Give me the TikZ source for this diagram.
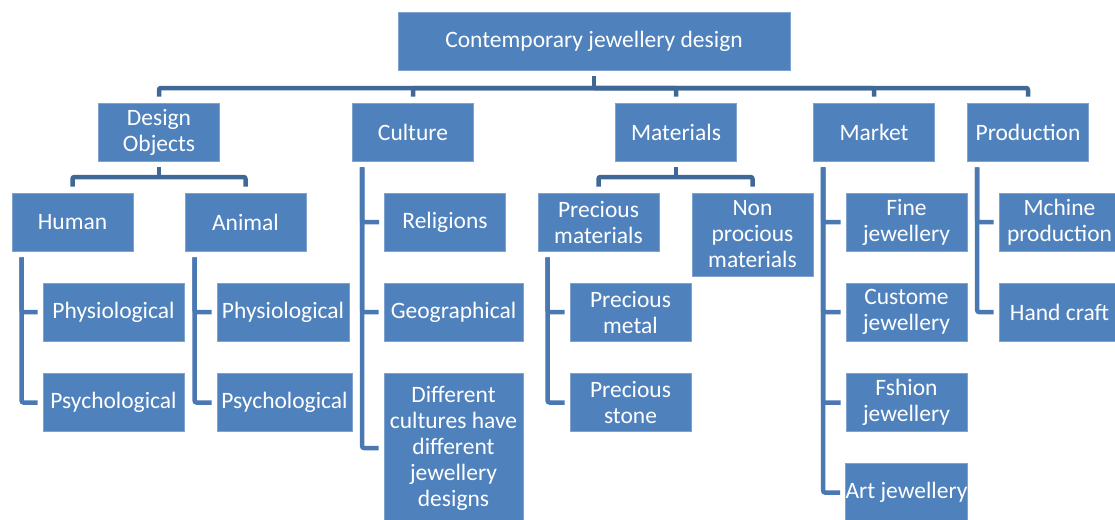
\documentclass[tikz,border=0pt]{standalone}
\usepackage{fontspec}
\setmainfont{Carlito}
\usepackage{tikz}

\definecolor{boxblue}{HTML}{4F81BD}
\definecolor{boxedge}{HTML}{7FA2CF}
\definecolor{barblue}{HTML}{3F6897}
\definecolor{linkblue}{HTML}{4A78B3}
\newcommand{\boxfont}{\fontsize{23.5}{26}\selectfont}

\begin{document}
\begin{tikzpicture}[x=1pt, y=-1pt,
    box/.style={rectangle, draw=boxedge, line width=0.8pt, fill=boxblue, text=white, inner sep=0pt, align=center, minimum width=121, minimum height=58, font=\boxfont},
    bar/.style={draw=barblue, line width=4.5pt, rounded corners=2pt},
    link/.style={draw=linkblue, line width=4.5pt, rounded corners=2pt}]
    \useasboundingbox (0,0) rectangle (1115,519);
    \clip (0,0) rectangle (1115,519);

    % Root
    \node[box, minimum width=392] (root) at (594,41) {Contemporary jewellery design};

    % Main branches
    \node[box] (design) at (159,132) {Design\\Objects};
    \node[box] (culture) at (413,132) {Culture};
    \node[box] (materials) at (676,132) {Materials};
    \node[box] (market) at (874,132) {Market};
    \node[box] (production) at (1028,132) {Production};

    % Second level
    \node[box] (human) at (72.5,222) {Human};
    \node[box] (animal) at (245.5,222) {Animal};
    \node[box] (religions) at (445,222) {Religions};
    \node[box] (precmat) at (598.5,222) {Precious\\materials};
    \node[box, minimum height=83] (nonprec) at (752.5,234.5) {Non\\procious\\materials};
    \node[box] (fine) at (906.5,222) {Fine\\jewellery};
    \node[box] (machine) at (1059.5,222) {Mchine\\production};

    % Third level
    \node[box, minimum width=141] (physhum) at (113.5,312) {Physiological};
    \node[box, minimum width=141] (psychum) at (113.5,402.5) {Psychological};
    \node[box, minimum width=132] (physani) at (283,312) {Physiological};
    \node[box, minimum width=135] (psychani) at (284.5,402.5) {Psychological};
    \node[box, minimum width=139] (geo) at (453.5,312) {Geographical};
    \node[box, minimum width=139, minimum height=150] (different) at (453.5,448) {Different\\cultures have\\different\\jewellery\\designs};
    \node[box] (metal) at (630.5,312) {Precious\\metal};
    \node[box] (stone) at (630.5,402.5) {Precious\\stone};
    \node[box] (custome) at (906.5,312) {Custome\\jewellery};
    \node[box] (fshion) at (906.5,402.5) {Fshion\\jewellery};
    \node[box] (art) at (906.5,492.5) {Art jewellery};
    \node[box] (handcraft) at (1059.5,312) {Hand craft};

    % Bars
    \coordinate (rootbar) at (594,88);
    \coordinate (designbar) at (159,177);
    \coordinate (matbar) at (676,177);
    \draw[bar] ([yshift=-6pt]root.south) -- (rootbar);
    \draw[bar] (rootbar) -| ([yshift=6pt]design.north);
    \draw[bar] (rootbar) -| ([yshift=6pt]culture.north);
    \draw[bar] (rootbar) -| ([yshift=6pt]materials.north);
    \draw[bar] (rootbar) -| ([yshift=6pt]market.north);
    \draw[bar] (rootbar) -| ([yshift=6pt]production.north);
    \draw[bar] ([yshift=-6pt]design.south) -- (designbar);
    \draw[bar] (designbar) -| ([yshift=6pt]human.north);
    \draw[bar] (designbar) -| ([yshift=6pt]animal.north);
    \draw[bar] ([yshift=-6pt]materials.south) -- (matbar);
    \draw[bar] (matbar) -| ([yshift=6pt]precmat.north);
    \draw[bar] (matbar) -| ([yshift=6pt]nonprec.north);

    % Hierarchy lines
    \draw[link] ([xshift=10pt, yshift=-6pt]human.south west) |- ([xshift=-5pt]physhum.west);
    \draw[link] ([xshift=10pt, yshift=-6pt]human.south west) |- ([xshift=-5pt]psychum.west);
    \draw[link] ([xshift=10pt, yshift=-6pt]animal.south west) |- ([xshift=-5pt]physani.west);
    \draw[link] ([xshift=10pt, yshift=-6pt]animal.south west) |- ([xshift=-5pt]psychani.west);
    \draw[link] ([xshift=10pt, yshift=-6pt]culture.south west) |- ([xshift=-5pt]religions.west);
    \draw[link] ([xshift=10pt, yshift=-6pt]culture.south west) |- ([xshift=-5pt]geo.west);
    \draw[link] ([xshift=10pt, yshift=-6pt]culture.south west) |- ([xshift=-5pt]different.west);
    \draw[link] ([xshift=10pt, yshift=-6pt]precmat.south west) |- ([xshift=-5pt]metal.west);
    \draw[link] ([xshift=10pt, yshift=-6pt]precmat.south west) |- ([xshift=-5pt]stone.west);
    \draw[link] ([xshift=10pt, yshift=-6pt]market.south west) |- ([xshift=-5pt]fine.west);
    \draw[link] ([xshift=10pt, yshift=-6pt]market.south west) |- ([xshift=-5pt]custome.west);
    \draw[link] ([xshift=10pt, yshift=-6pt]market.south west) |- ([xshift=-5pt]fshion.west);
    \draw[link] ([xshift=10pt, yshift=-6pt]market.south west) |- ([xshift=-5pt]art.west);
    \draw[link] ([xshift=10pt, yshift=-6pt]production.south west) |- ([xshift=-5pt]machine.west);
    \draw[link] ([xshift=10pt, yshift=-6pt]production.south west) |- ([xshift=-5pt]handcraft.west);
\end{tikzpicture}
\end{document}
